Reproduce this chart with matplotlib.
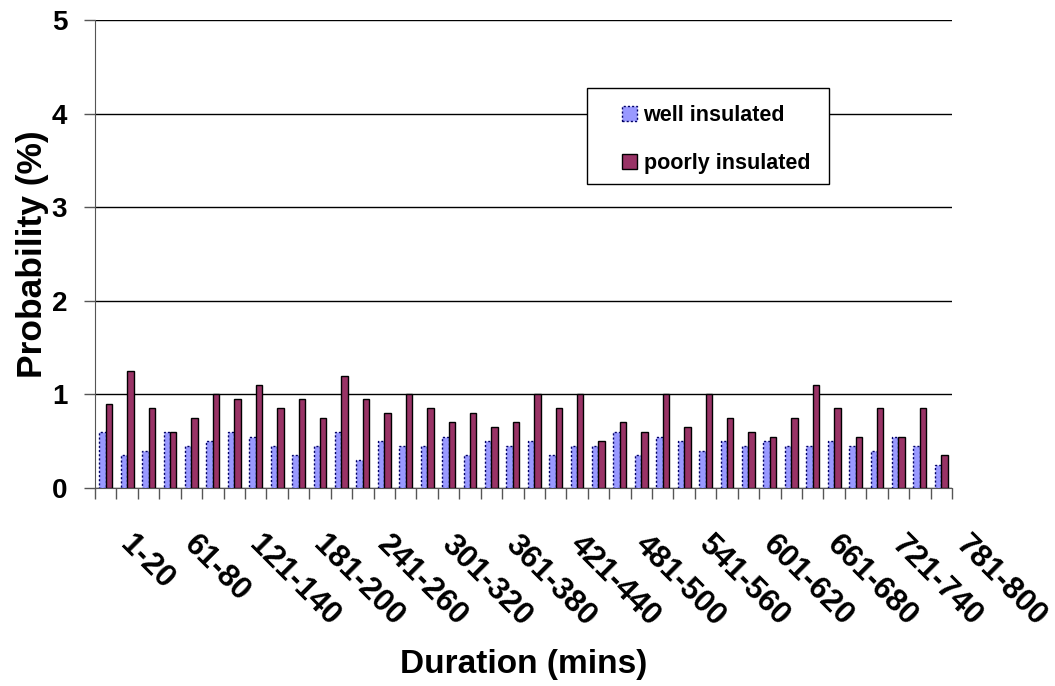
import numpy as np
import matplotlib.pyplot as plt
from matplotlib.patches import Patch, Rectangle
from matplotlib.transforms import ScaledTranslation

plt.rcParams['font.family'] = ['Liberation Sans', 'DejaVu Sans']
plt.rcParams['font.weight'] = 'bold'

# 20-minute duration bins
categories = [f'{a}-{a + 19}' for a in range(1, 801, 20)]

well = [0.6, 0.35, 0.4, 0.6, 0.45, 0.5, 0.6, 0.55, 0.45, 0.35,
        0.45, 0.6, 0.3, 0.5, 0.45, 0.45, 0.55, 0.35, 0.5, 0.45,
        0.5, 0.35, 0.45, 0.45, 0.6, 0.35, 0.55, 0.5, 0.4, 0.5,
        0.45, 0.5, 0.45, 0.45, 0.5, 0.45, 0.4, 0.55, 0.45, 0.25]
poorly = [0.9, 1.25, 0.85, 0.6, 0.75, 1.0, 0.95, 1.1, 0.85, 0.95,
          0.75, 1.2, 0.95, 0.8, 1.0, 0.85, 0.7, 0.8, 0.65, 0.7,
          1.0, 0.85, 1.0, 0.5, 0.7, 0.6, 1.0, 0.65, 1.0, 0.75,
          0.6, 0.55, 0.75, 1.1, 0.85, 0.55, 0.85, 0.55, 0.85, 0.35]

blue = '#9999ff'
plum = '#993366'

W, H = 1055, 686
fig = plt.figure(figsize=(W / 100, H / 100), dpi=100)
ax = fig.add_axes([95 / W, 1 - 488 / H, 857 / W, 468 / H])

x = np.arange(len(categories))
w = 0.3
ax.bar(x - w / 2, well, w, color=blue, edgecolor='#000066', linestyle=(0, (1.5, 1.5)),
       linewidth=1.0, zorder=3)
ax.bar(x + w / 2, poorly, w, color=plum, edgecolor='black', linewidth=1.0, zorder=3)

ax.set_xlim(-0.5, len(categories) - 0.5)
ax.set_ylim(0, 5)
ax.set_yticks(range(6))
ax.yaxis.grid(True, color='black', linewidth=1.0, zorder=0)
ax.tick_params(axis='y', length=8, width=1, labelsize=20, pad=12, color='#555555')

# tick marks between categories, labels on every third category
ax.set_xticks(np.arange(-0.5, len(categories), 1), minor=True)
ax.tick_params(axis='x', which='minor', length=8, width=1, color='#555555')
ax.set_xticks(x[::3])
ax.set_xticklabels(categories[::3])
ax.tick_params(axis='x', which='major', length=0, pad=37.5, labelsize=22.5)
for lbl in ax.get_xticklabels():
    lbl.set_rotation(-45)
    lbl.set_rotation_mode('anchor')
    lbl.set_ha('left')
    lbl.set_va('center')
    lbl.set_transform(lbl.get_transform() + ScaledTranslation(0.19, 0, fig.dpi_scale_trans))

for s in ['top', 'right']:
    ax.spines[s].set_visible(False)
ax.spines['left'].set_color('#555555')
ax.spines['bottom'].set_color('#555555')

ax.set_ylabel('Probability (%)', fontsize=25.5, fontweight='bold', labelpad=2)
ax.set_xlabel('Duration (mins)', fontsize=24, fontweight='bold', labelpad=12)

# legend box
fig.patches.append(Rectangle((587 / W, 1 - 184 / H), 242 / W, 96 / H,
                             transform=fig.transFigure, facecolor='white',
                             edgecolor='black', linewidth=1.0, zorder=5))
handles = [Patch(facecolor=blue, edgecolor='#000066', linestyle=(0, (1.5, 1.5))),
           Patch(facecolor=plum, edgecolor='black')]
leg = fig.legend(handles, ['well insulated', 'poorly insulated'],
                 bbox_to_anchor=(622 / W, 1 - 105 / H), loc='upper left',
                 fontsize=15.5, frameon=False, labelspacing=1.25,
                 handlelength=0.7, handleheight=0.7, handletextpad=0.3,
                 borderpad=0, borderaxespad=0)
leg.set_zorder(6)

fig.savefig('out.png', dpi=100)
